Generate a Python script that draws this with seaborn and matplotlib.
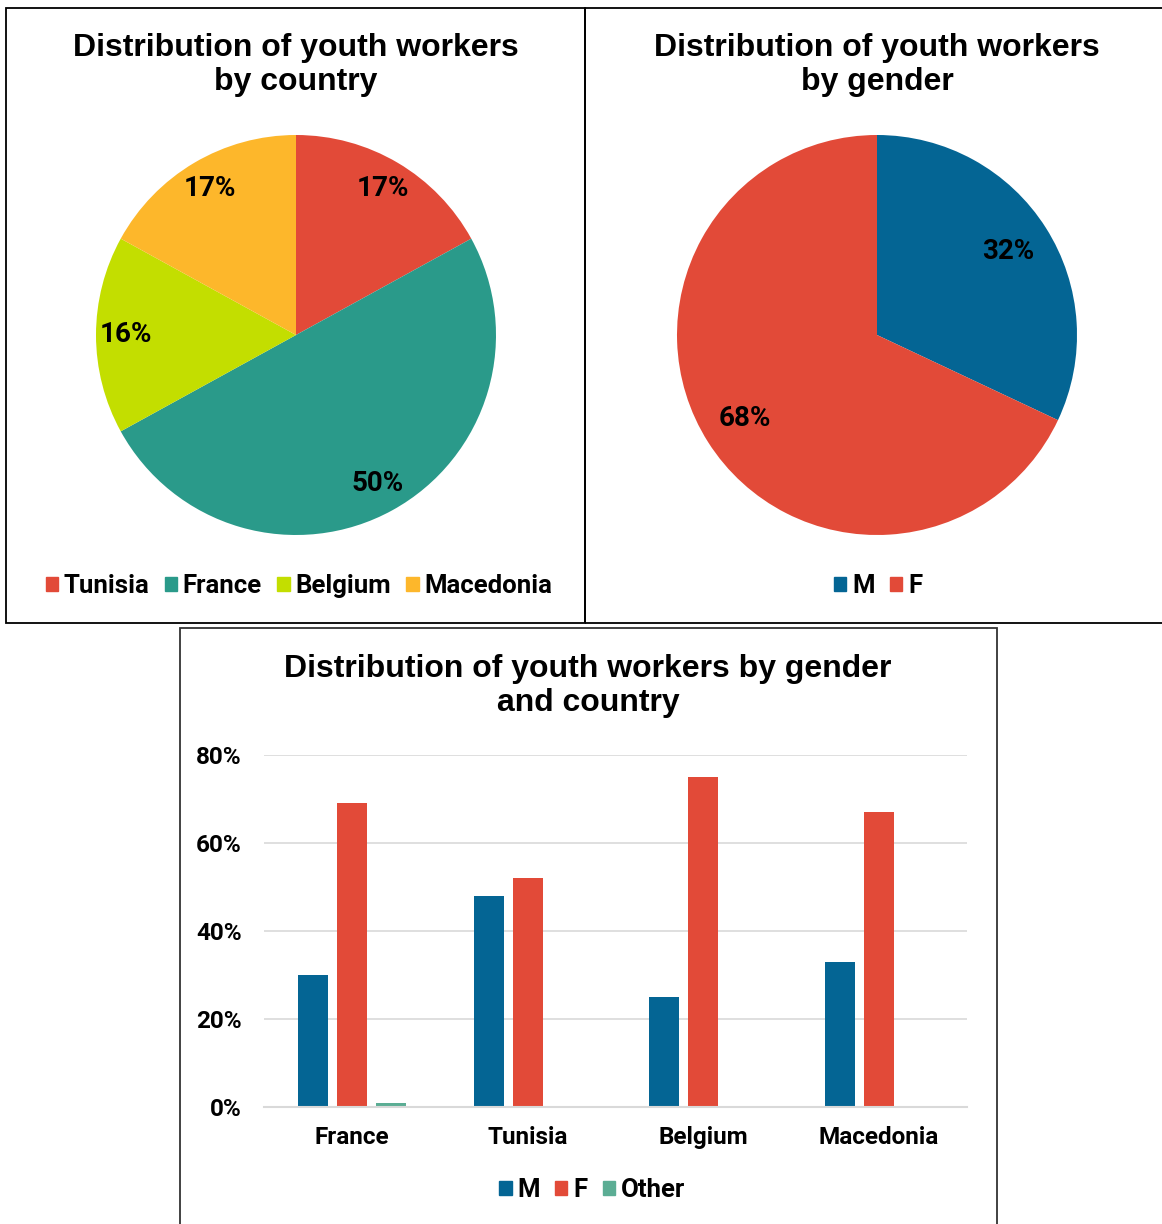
import numpy as np
import pandas as pd
import matplotlib
matplotlib.use('Agg')
import matplotlib.pyplot as plt
import seaborn as sns
from matplotlib.patches import Rectangle, Patch
from matplotlib.ticker import FuncFormatter

sns.set_theme(style='white')
plt.rcParams['font.family'] = ['Roboto', 'DejaVu Sans']
plt.rcParams['font.weight'] = 'bold'
plt.rcParams['text.color'] = 'black'
plt.rcParams['xtick.color'] = 'black'
plt.rcParams['ytick.color'] = 'black'

# data
countries_pie = ['Tunisia', 'France', 'Belgium', 'Macedonia']
country_share = [17, 50, 16, 17]
genders_pie = ['M', 'F']
gender_share = [32, 68]

countries_bar = ['France', 'Tunisia', 'Belgium', 'Macedonia']
male = [0.30, 0.48, 0.25, 0.33]
female = [0.69, 0.52, 0.75, 0.67]
other = [0.01, 0.0, 0.0, 0.0]
y_ticks = [0, 0.2, 0.4, 0.6, 0.8]

# colours
c_red = '#E24A38'
c_teal = '#2A9A8A'
c_lime = '#C3DE00'
c_orange = '#FDB72B'
c_blue = '#046594'
c_other = '#5BAD94'

W, H = 1162, 1224
fig = plt.figure(figsize=(W / 100, H / 100), dpi=100)

def fx(x): return x / W
def fy(y): return 1 - y / H

title_font = dict(family=['Liberation Sans', 'DejaVu Sans'], weight='bold', size=23, color='black')
leg_kw = dict(loc='center', frameon=False, handlelength=0.48, handleheight=0.48,
              handletextpad=0.22, columnspacing=0.6, prop=dict(size=18.5, weight='bold'))

# panel borders
for (x0, y0, x1, y1, col) in [(6, 8, 585, 623, 'black'), (585, 8, 1170, 623, 'black'),
                              (180, 628, 997, 1230, '#333333')]:
    fig.add_artist(Rectangle((fx(x0), fy(y1)), fx(x1 - x0), (y1 - y0) / H,
                             transform=fig.transFigure, fill=False, lw=1.3, edgecolor=col))

##-> pie by country
ax1 = fig.add_axes([fx(96), fy(535), fx(400), 400 / H])
ax1.pie(country_share, colors=[c_red, c_teal, c_lime, c_orange], startangle=90, counterclock=False,
        autopct='%.0f%%', pctdistance=0.85, wedgeprops=dict(linewidth=0),
        textprops=dict(size=20, weight='bold', color='black'))
ax1.set_xlim(-1, 1); ax1.set_ylim(-1, 1)
fig.text(fx(296), fy(65), 'Distribution of youth workers\nby country', ha='center', va='center',
         linespacing=1.2, **title_font)
fig.legend(handles=[Patch(color=c) for c in [c_red, c_teal, c_lime, c_orange]], labels=countries_pie,
           bbox_to_anchor=(fx(299), fy(586)), ncol=4, **leg_kw)

##-> pie by gender
ax2 = fig.add_axes([fx(677), fy(535), fx(400), 400 / H])
ax2.pie(gender_share, colors=[c_blue, c_red], startangle=90, counterclock=False,
        autopct='%.0f%%', pctdistance=0.78, wedgeprops=dict(linewidth=0),
        textprops=dict(size=20, weight='bold', color='black'))
ax2.set_xlim(-1, 1); ax2.set_ylim(-1, 1)
fig.text(fx(877), fy(65), 'Distribution of youth workers\nby gender', ha='center', va='center',
         linespacing=1.2, **title_font)
fig.legend(handles=[Patch(color=c) for c in [c_blue, c_red]], labels=genders_pie,
           bbox_to_anchor=(fx(878), fy(586)), ncol=2, **leg_kw)

##-> bar chart by gender and country
df = pd.DataFrame({'country': countries_bar * 3,
                   'gender': ['M'] * 4 + ['F'] * 4 + ['Other'] * 4,
                   'value': male + female + other})
ax3 = fig.add_axes([fx(264), fy(1107), fx(703), 352 / H])
sns.barplot(data=df, x='country', y='value', hue='gender', hue_order=['M', 'F', 'Other'],
            palette=[c_blue, c_red, c_other], width=0.665, gap=0.23, linewidth=0,
            saturation=1, legend=False, ax=ax3)
ax3.set_ylim(0, 0.8)
ax3.set_yticks(y_ticks)
ax3.yaxis.set_major_formatter(FuncFormatter(lambda v, p: f'{v*100:.0f}%'))
ax3.grid(axis='y', color='#D9D9D9', lw=1.2)
ax3.set_axisbelow(True)
for s in ['left', 'right', 'top']:
    ax3.spines[s].set_visible(False)
ax3.spines['bottom'].set_color('#D9D9D9')
ax3.spines['bottom'].set_linewidth(1.5)
ax3.tick_params(axis='y', length=0, pad=16, labelsize=17.5)
ax3.tick_params(axis='x', length=0, pad=14, labelsize=17.5)
for lab in ax3.get_xticklabels() + ax3.get_yticklabels():
    lab.set_fontweight('bold')
ax3.set_xlabel('')
ax3.set_ylabel('')
fig.text(fx(588), fy(686), 'Distribution of youth workers by gender\nand country', ha='center',
         va='center', linespacing=1.2, **title_font)
fig.legend(handles=[Patch(color=c) for c in [c_blue, c_red, c_other]], labels=['M', 'F', 'Other'],
           bbox_to_anchor=(fx(592), fy(1190)), ncol=3, **leg_kw)

fig.savefig('out.png', dpi=100)
